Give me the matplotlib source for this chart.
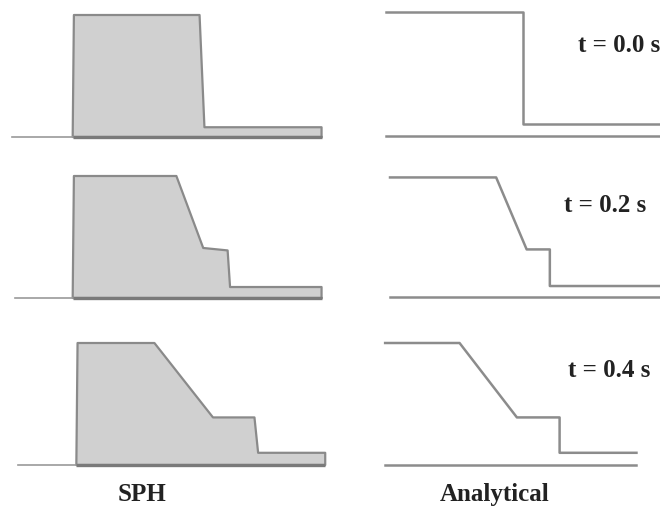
import matplotlib.pyplot as plt

# depth profiles, x measured from the gate, h relative to reservoir depth
sph_x = [
    [-1.06, -1.05, -0.02, 0.02, 0.98, 0.98],
    [-1.06, -1.05, -0.21, 0.01, 0.21, 0.23, 0.98, 0.98],
    [-1.03, -1.02, -0.39, 0.09, 0.43, 0.46, 1.01, 1.01],
]
sph_h = [
    [0.0, 1.0, 1.0, 0.08, 0.08, 0.0],
    [0.0, 1.0, 1.0, 0.41, 0.39, 0.09, 0.09, 0.0],
    [0.0, 1.0, 1.0, 0.39, 0.39, 0.10, 0.10, 0.0],
]
sph_bed = [(-1.56, 0.98), (-1.53, 0.98), (-1.51, 1.01)]

ana_x = [
    [-1.12, 0.0, 0.0, 1.13],
    [-1.09, -0.22, 0.03, 0.22, 0.22, 1.13],
    [-1.13, -0.52, -0.05, 0.30, 0.30, 0.93],
]
ana_h = [
    [1.02, 1.02, 0.10, 0.10],
    [0.98, 0.98, 0.39, 0.39, 0.09, 0.09],
    [1.00, 1.00, 0.39, 0.39, 0.10, 0.10],
]
ana_bed = [(-1.12, 1.13), (-1.09, 1.13), (-1.13, 0.93)]

times = ["t = 0.0 s", "t = 0.2 s", "t = 0.4 s"]
col_labels = ["SPH", "Analytical"]

W, H = 660, 507
S = 122.0  # px per unit
fig = plt.figure(figsize=(W / 100, H / 100), dpi=100)
fig.patch.set_facecolor("white")

rows_px = [(0, 160, 137, 136), (160, 165, 298, 297), (325, 160, 465, 465)]
text_pos = [(578, 52), (564, 212), (568, 377)]


def panel(x0, y0, w, h, dam, base):
    ax = fig.add_axes([x0 / W, 1 - (y0 + h) / H, w / W, h / H])
    ax.set_xlim((x0 - dam) / S, (x0 + w - dam) / S)
    ax.set_ylim((base - (y0 + h)) / S, (base - y0) / S)
    ax.axis("off")
    return ax


for i, (y0, hh, base_l, base_r) in enumerate(rows_px):
    ax = panel(0, y0, 330, hh, 202, base_l)
    ax.plot(sph_bed[i], [0, 0], color="#9a9a9a", lw=1.2)
    ax.fill(sph_x[i], sph_h[i], facecolor="#d0d0d0", edgecolor="#8a8a8a",
            lw=1.6, joinstyle="round")
    ax.plot([sph_x[i][0], sph_x[i][-1]], [0, 0], color="#7a7a7a", lw=2.4,
            solid_capstyle="butt")

    ax = panel(330, y0, 330, hh, 523, base_r)
    ax.plot(ana_bed[i], [0, 0], color="#8c8c8c", lw=1.8)
    ax.plot(ana_x[i], ana_h[i], color="#8c8c8c", lw=1.8)

    tx, ty = text_pos[i]
    fig.text(tx / W, 1 - ty / H, times[i], family="Liberation Serif",
             weight="bold", fontsize=18, ha="left", va="baseline", color="#222222")

fig.text(142 / W, 1 - 501 / H, col_labels[0], family="Liberation Serif",
         weight="bold", fontsize=18, ha="center", va="baseline", color="#222222")
fig.text(495 / W, 1 - 501 / H, col_labels[1], family="Liberation Serif",
         weight="bold", fontsize=18, ha="center", va="baseline", color="#222222")

fig.savefig("out.png", dpi=100, facecolor="white")
